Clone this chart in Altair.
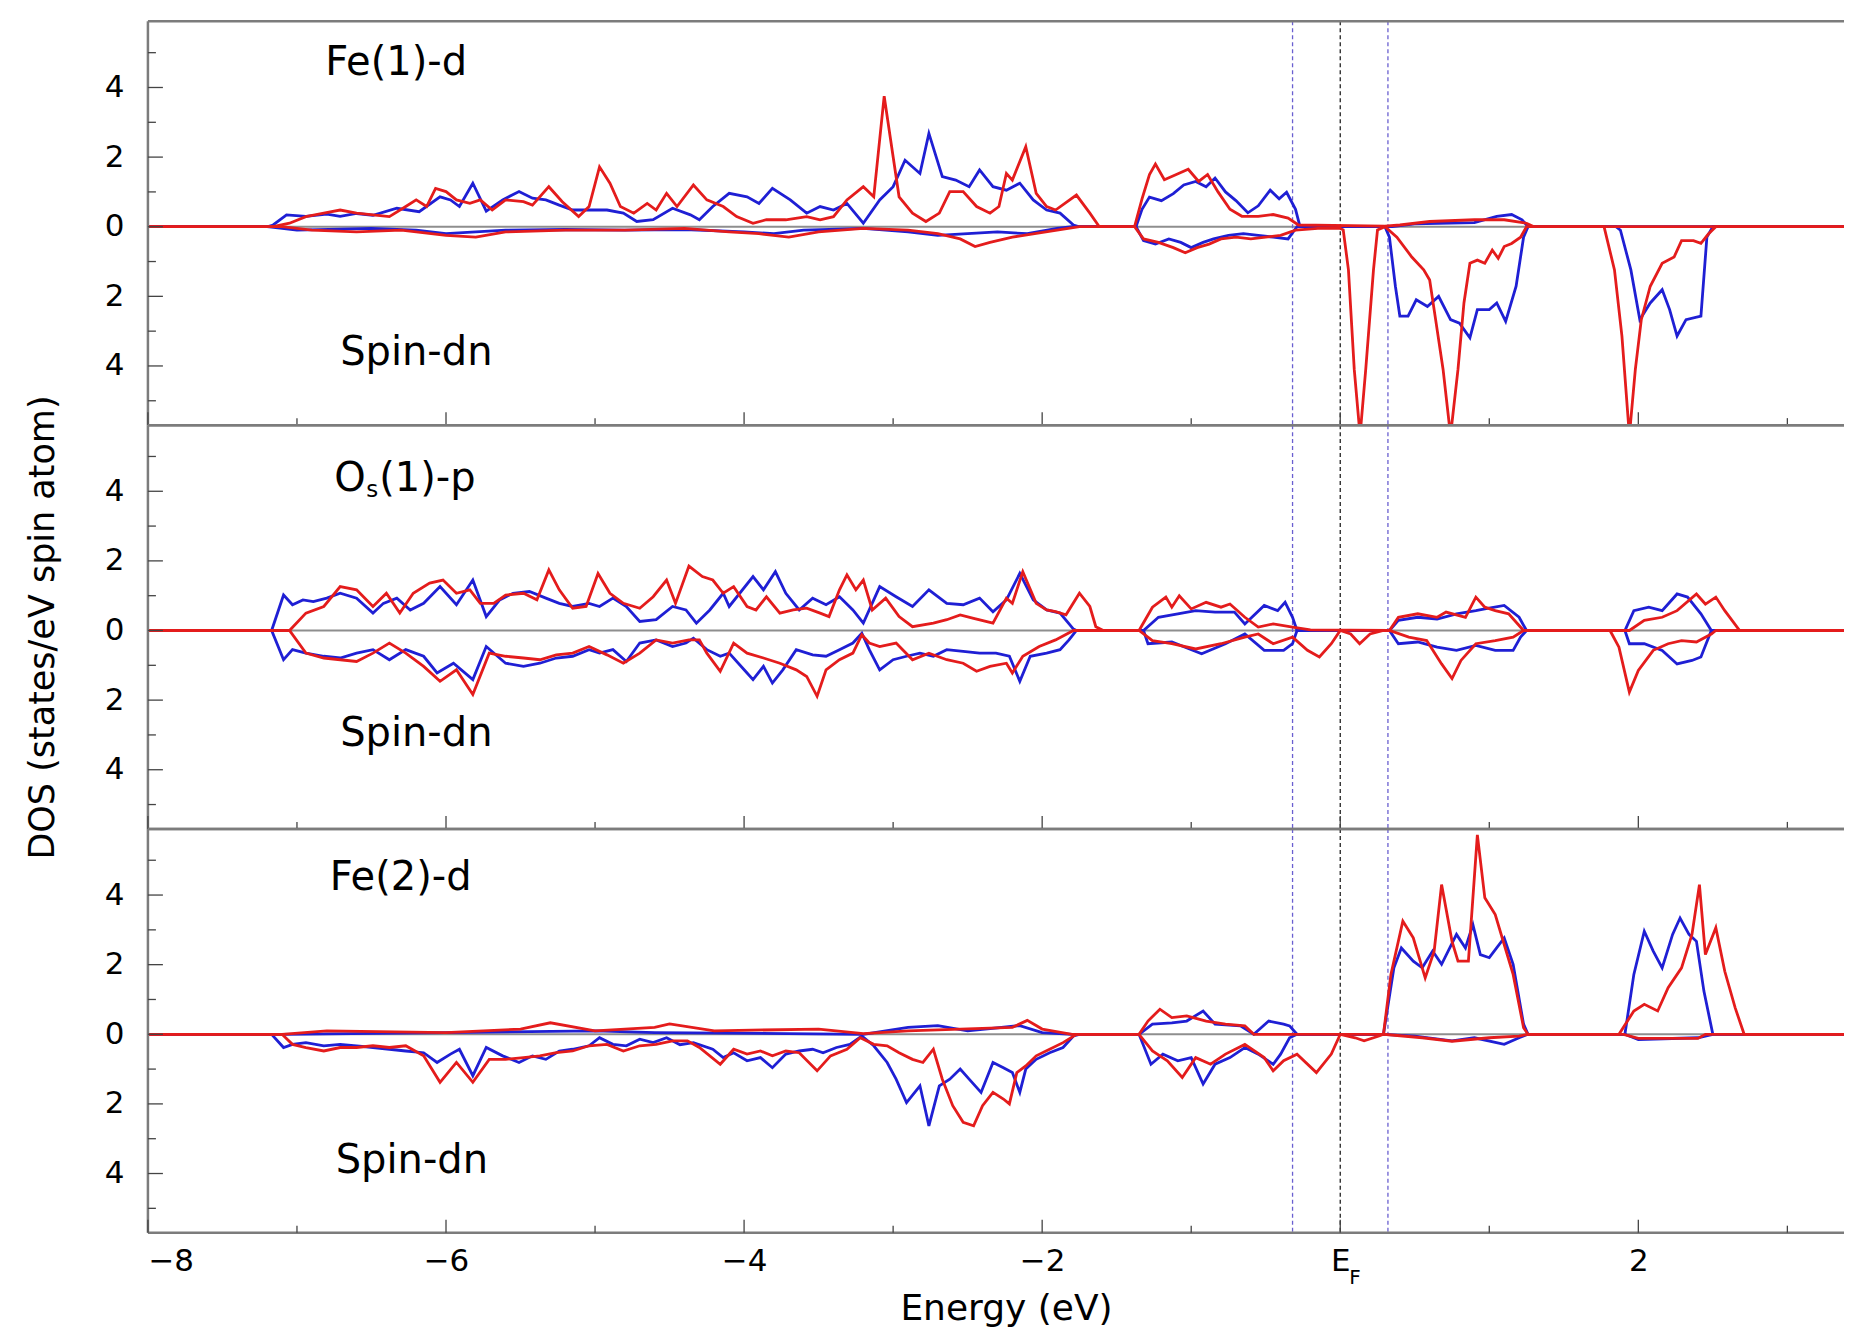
import altair as alt
import pandas as pd

# ---------------- data (energy in eV, DOS in states/eV spin atom; spin-dn negative) ---------
fe1_blue_up = [(-8.0,0),(-7.2,0),(-7.16,0.05),(-7.07,0.34),(-6.94,0.30),(-6.80,0.36),(-6.71,0.30),(-6.60,0.38),
  (-6.49,0.33),(-6.33,0.53),(-6.18,0.43),(-6.04,0.86),(-5.97,0.77),(-5.91,0.58),(-5.82,1.25),(-5.73,0.45),
  (-5.62,0.77),(-5.51,1.01),(-5.42,0.82),(-5.33,0.77),(-5.24,0.62),(-5.15,0.48),(-5.04,0.48),(-4.92,0.48),
  (-4.81,0.39),(-4.72,0.15),(-4.61,0.20),(-4.48,0.53),(-4.36,0.34),(-4.30,0.20),(-4.21,0.58),(-4.10,0.96),
  (-3.98,0.86),(-3.90,0.67),(-3.81,1.10),(-3.69,0.77),(-3.58,0.39),(-3.49,0.58),(-3.40,0.48),(-3.31,0.67),
  (-3.20,0.10),(-3.09,0.77),(-3.00,1.15),(-2.92,1.91),(-2.82,1.53),(-2.76,2.68),(-2.67,1.44),(-2.58,1.34),
  (-2.49,1.15),(-2.42,1.63),(-2.33,1.15),(-2.24,1.05),(-2.15,1.25),(-2.06,0.77),(-1.97,0.48),(-1.88,0.39),
  (-1.79,0.05),(-1.75,0),(-1.37,0),(-1.33,0.5),(-1.28,0.85),(-1.20,0.75),(-1.12,0.95),(-1.05,1.2),(-0.97,1.3),
  (-0.90,1.15),(-0.84,1.4),(-0.77,1.0),(-0.70,0.75),(-0.62,0.4),(-0.55,0.6),(-0.47,1.05),(-0.41,0.8),
  (-0.36,0.99),(-0.30,0.5),(-0.27,0),(0.35,0),(0.50,0.08),(0.90,0.12),(1.05,0.3),(1.15,0.35),(1.22,0.2),
  (1.26,0),(3.5,0)]
fe1_red_up = [(-8.0,0),(-7.16,0),(-7.05,0.10),(-6.94,0.29),(-6.82,0.39),(-6.71,0.48),(-6.60,0.39),(-6.49,0.34),
  (-6.38,0.29),(-6.27,0.58),(-6.20,0.77),(-6.13,0.58),(-6.07,1.10),(-6.00,1.01),(-5.93,0.77),(-5.84,0.67),
  (-5.77,0.77),(-5.69,0.48),(-5.60,0.77),(-5.48,0.72),(-5.42,0.62),(-5.31,1.15),(-5.22,0.72),(-5.11,0.29),
  (-5.04,0.58),(-4.97,1.72),(-4.90,1.25),(-4.83,0.58),(-4.74,0.39),(-4.65,0.67),(-4.59,0.48),(-4.52,0.96),
  (-4.45,0.58),(-4.34,1.20),(-4.25,0.77),(-4.14,0.58),(-4.05,0.29),(-3.94,0.10),(-3.85,0.20),(-3.72,0.20),
  (-3.58,0.29),(-3.49,0.20),(-3.40,0.29),(-3.31,0.77),(-3.20,1.15),(-3.13,0.86),(-3.06,3.75),(-3.00,2.01),
  (-2.96,0.86),(-2.87,0.39),(-2.78,0.15),(-2.69,0.39),(-2.62,1.01),(-2.53,1.01),(-2.44,0.58),(-2.35,0.39),
  (-2.29,0.58),(-2.24,1.53),(-2.20,1.34),(-2.11,2.30),(-2.04,0.96),(-1.97,0.58),(-1.91,0.48),(-1.77,0.91),
  (-1.68,0.39),(-1.62,0.02),(-1.58,0),(-1.38,0),(-1.33,0.8),(-1.28,1.5),(-1.24,1.8),(-1.18,1.35),(-1.10,1.5),
  (-1.02,1.65),(-0.95,1.3),(-0.89,1.5),(-0.82,1.0),(-0.74,0.5),(-0.66,0.3),(-0.55,0.3),(-0.45,0.35),
  (-0.35,0.25),(-0.28,0.05),(0.30,0.02),(0.40,0.05),(0.60,0.15),(0.90,0.2),(1.10,0.2),(1.25,0.1),(1.30,0),
  (3.5,0)]
fe1_blue_dn = [(-8.0,0),(-7.2,0),(-7.0,-0.1),(-6.5,-0.05),(-6.2,-0.1),(-6.0,-0.2),(-5.8,-0.15),(-5.6,-0.1),
  (-5.2,-0.08),(-4.8,-0.1),(-4.4,-0.08),(-4.0,-0.15),(-3.8,-0.2),(-3.6,-0.1),(-3.2,-0.05),(-2.9,-0.15),
  (-2.7,-0.25),(-2.5,-0.2),(-2.3,-0.15),(-2.1,-0.2),(-1.9,-0.05),(-1.8,0),(-1.37,0),(-1.32,-0.4),(-1.24,-0.5),
  (-1.15,-0.35),(-1.07,-0.45),(-1.0,-0.6),(-0.92,-0.45),(-0.85,-0.35),(-0.75,-0.25),(-0.65,-0.2),(-0.55,-0.25),
  (-0.45,-0.3),(-0.35,-0.35),(-0.29,0),(0.30,0),(0.33,-0.3),(0.37,-1.71),(0.40,-2.57),(0.455,-2.57),
  (0.51,-2.10),(0.585,-2.29),(0.66,-2.0),(0.74,-2.67),(0.80,-2.77),(0.87,-3.19),(0.92,-2.38),(1.0,-2.38),
  (1.05,-2.19),(1.11,-2.72),(1.18,-1.71),(1.23,-0.3),(1.26,0),(1.85,0),(1.88,-0.1),(1.95,-1.24),(2.01,-2.67),
  (2.08,-2.19),(2.16,-1.81),(2.21,-2.38),(2.26,-3.14),(2.32,-2.67),(2.42,-2.57),(2.46,-0.3),(2.50,0),(3.5,0)]
fe1_red_dn = [(-8.0,0),(-7.1,0),(-6.9,-0.1),(-6.6,-0.15),(-6.3,-0.1),(-6.0,-0.25),(-5.8,-0.3),(-5.6,-0.15),
  (-5.2,-0.1),(-4.8,-0.1),(-4.4,-0.05),(-4.1,-0.15),(-3.9,-0.2),(-3.7,-0.3),(-3.5,-0.15),(-3.2,-0.05),
  (-2.9,-0.1),(-2.7,-0.2),(-2.55,-0.35),(-2.45,-0.57),(-2.35,-0.45),(-2.2,-0.3),(-2.05,-0.2),(-1.9,-0.1),
  (-1.75,0),(-1.38,0),(-1.32,-0.35),(-1.22,-0.45),(-1.12,-0.6),(-1.04,-0.75),(-0.96,-0.6),(-0.88,-0.5),
  (-0.8,-0.35),(-0.7,-0.3),(-0.6,-0.35),(-0.5,-0.3),(-0.4,-0.25),(-0.3,-0.1),(-0.15,-0.05),(0.0,-0.05),
  (0.02,-0.09),(0.055,-1.24),(0.094,-4.1),(0.133,-6.0),(0.171,-4.1),(0.223,-1.24),(0.25,-0.09),(0.30,0),
  (0.38,-0.3),(0.48,-0.87),(0.56,-1.24),(0.60,-1.53),(0.64,-2.67),(0.69,-4.1),(0.74,-6.0),(0.79,-4.1),
  (0.83,-2.19),(0.87,-1.05),(0.92,-0.96),(0.97,-1.05),(1.02,-0.67),(1.06,-0.91),(1.10,-0.57),(1.15,-0.48),
  (1.21,-0.3),(1.25,0),(1.77,0),(1.84,-1.24),(1.89,-3.14),(1.94,-6.0),(1.98,-4.1),(2.02,-2.67),(2.08,-1.71),
  (2.16,-1.05),(2.24,-0.87),(2.29,-0.40),(2.37,-0.40),(2.42,-0.48),(2.47,-0.21),(2.52,0),(3.5,0)]

os_blue_up = [(-8.0,0),(-7.17,0),(-7.09,1.02),(-7.03,0.74),(-6.96,0.88),(-6.89,0.83),(-6.80,0.93),(-6.71,1.07),
  (-6.60,0.93),(-6.49,0.50),(-6.42,0.78),(-6.33,0.93),(-6.24,0.59),(-6.15,0.78),(-6.04,1.26),(-5.93,0.74),
  (-5.82,1.45),(-5.73,0.40),(-5.64,0.88),(-5.55,1.07),(-5.44,1.12),(-5.33,0.93),(-5.24,0.78),(-5.15,0.69),
  (-5.04,0.78),(-4.97,0.69),(-4.88,0.93),(-4.79,0.69),(-4.70,0.26),(-4.59,0.31),(-4.48,0.69),(-4.39,0.59),
  (-4.32,0.21),(-4.23,0.59),(-4.14,1.07),(-4.10,0.69),(-3.94,1.55),(-3.87,1.17),(-3.79,1.69),(-3.72,1.07),
  (-3.63,0.59),(-3.54,0.93),(-3.45,0.74),(-3.36,0.97),(-3.27,0.59),(-3.20,0.21),(-3.09,1.26),(-2.98,0.97),
  (-2.87,0.69),(-2.76,1.17),(-2.64,0.78),(-2.53,0.74),(-2.42,0.93),(-2.33,0.54),(-2.24,0.88),(-2.15,1.64),
  (-2.06,0.88),(-1.97,0.59),(-1.88,0.50),(-1.79,0.04),(-1.77,0),(-1.32,0),(-1.22,0.38),(-1.09,0.48),
  (-0.97,0.57),(-0.84,0.53),(-0.71,0.53),(-0.64,0.19),(-0.51,0.72),(-0.42,0.57),(-0.37,0.81),(-0.32,0.38),
  (-0.29,0),(0.33,0),(0.39,0.29),(0.52,0.38),(0.65,0.33),(0.78,0.48),(0.91,0.57),(0.97,0.62),(1.10,0.72),
  (1.20,0.38),(1.25,0),(1.91,0),(1.97,0.57),(2.07,0.67),(2.16,0.57),(2.26,1.05),(2.33,0.96),(2.42,0.48),
  (2.49,0),(3.5,0)]
os_red_up = [(-8.0,0),(-7.05,0),(-6.94,0.50),(-6.82,0.69),(-6.71,1.26),(-6.60,1.17),(-6.49,0.69),(-6.40,1.07),
  (-6.31,0.50),(-6.22,1.07),(-6.11,1.36),(-6.02,1.45),(-5.93,1.07),(-5.84,1.17),(-5.77,0.78),(-5.68,0.78),
  (-5.60,1.02),(-5.48,1.07),(-5.39,0.88),(-5.31,1.74),(-5.24,1.17),(-5.15,0.64),(-5.06,0.69),(-4.98,1.64),
  (-4.90,1.07),(-4.81,0.78),(-4.70,0.64),(-4.61,0.97),(-4.52,1.45),(-4.46,0.78),(-4.37,1.85),(-4.28,1.55),
  (-4.21,1.45),(-4.14,1.07),(-4.07,1.26),(-3.98,0.69),(-3.92,0.59),(-3.85,0.97),(-3.76,0.50),(-3.67,0.59),
  (-3.58,0.64),(-3.49,0.50),(-3.43,0.40),(-3.36,1.17),(-3.31,1.60),(-3.25,1.17),(-3.20,1.45),(-3.14,0.59),
  (-3.05,0.93),(-2.96,0.40),(-2.87,0.11),(-2.73,0.21),(-2.64,0.31),(-2.55,0.45),(-2.46,0.35),(-2.33,0.21),
  (-2.24,0.93),(-2.20,0.78),(-2.13,1.69),(-2.04,0.78),(-1.97,0.59),(-1.91,0.54),(-1.84,0.45),(-1.75,1.07),
  (-1.68,0.69),(-1.64,0.11),(-1.59,0),(-1.35,0),(-1.26,0.67),(-1.17,0.96),(-1.13,0.67),(-1.08,1.0),
  (-1.00,0.62),(-0.90,0.81),(-0.80,0.67),(-0.74,0.76),(-0.64,0.38),(-0.55,0.10),(-0.45,0.19),(-0.32,0.10),
  (-0.20,0.02),(0.33,0),(0.39,0.38),(0.52,0.48),(0.65,0.38),(0.71,0.53),(0.84,0.38),(0.91,0.96),(0.97,0.67),
  (1.04,0.57),(1.13,0.48),(1.23,0),(1.94,0),(2.04,0.29),(2.16,0.38),(2.26,0.57),(2.39,1.05),(2.45,0.76),
  (2.52,0.96),(2.58,0.57),(2.68,0),(3.5,0)]
os_blue_dn = [(-8.0,0),(-7.17,0),(-7.09,-0.84),(-7.03,-0.55),(-6.94,-0.65),(-6.82,-0.74),(-6.71,-0.79),
  (-6.60,-0.65),(-6.49,-0.55),(-6.38,-0.84),(-6.27,-0.55),(-6.15,-0.74),(-6.06,-1.22),(-5.95,-0.94),
  (-5.82,-1.41),(-5.73,-0.46),(-5.60,-0.94),(-5.48,-1.03),(-5.37,-0.94),(-5.26,-0.79),(-5.15,-0.74),
  (-5.04,-0.55),(-4.97,-0.65),(-4.88,-0.55),(-4.79,-0.89),(-4.70,-0.36),(-4.59,-0.27),(-4.48,-0.46),
  (-4.39,-0.36),(-4.34,-0.22),(-4.25,-0.55),(-4.16,-0.74),(-4.10,-0.65),(-3.98,-1.22),(-3.94,-1.41),
  (-3.87,-1.03),(-3.81,-1.51),(-3.74,-1.13),(-3.65,-0.55),(-3.54,-0.70),(-3.45,-0.74),(-3.36,-0.55),
  (-3.27,-0.36),(-3.21,-0.08),(-3.16,-0.55),(-3.09,-1.13),(-3.00,-0.84),(-2.91,-0.74),(-2.82,-0.65),
  (-2.73,-0.74),(-2.64,-0.55),(-2.53,-0.60),(-2.42,-0.65),(-2.31,-0.65),(-2.22,-0.74),(-2.15,-1.46),
  (-2.08,-0.74),(-1.97,-0.65),(-1.88,-0.55),(-1.82,-0.27),(-1.77,0),(-1.32,0),(-1.29,-0.38),(-1.13,-0.33),
  (-0.93,-0.67),(-0.77,-0.38),(-0.64,-0.10),(-0.51,-0.57),(-0.38,-0.57),(-0.32,-0.38),(-0.29,0),(0.33,0),
  (0.39,-0.38),(0.52,-0.33),(0.65,-0.48),(0.78,-0.57),(0.91,-0.43),(1.04,-0.57),(1.16,-0.57),(1.21,-0.19),
  (1.25,0),(1.91,0),(1.94,-0.38),(2.04,-0.38),(2.16,-0.57),(2.26,-0.96),(2.36,-0.86),(2.42,-0.76),(2.49,0),
  (3.5,0)]
os_red_dn = [(-8.0,0),(-7.05,0),(-6.94,-0.65),(-6.82,-0.79),(-6.71,-0.84),(-6.60,-0.89),(-6.49,-0.65),
  (-6.38,-0.36),(-6.27,-0.65),(-6.15,-1.03),(-6.04,-1.46),(-5.93,-1.13),(-5.82,-1.84),(-5.71,-0.65),
  (-5.60,-0.74),(-5.48,-0.79),(-5.37,-0.84),(-5.26,-0.70),(-5.15,-0.65),(-5.04,-0.46),(-4.92,-0.70),
  (-4.81,-0.94),(-4.70,-0.65),(-4.59,-0.27),(-4.48,-0.36),(-4.37,-0.27),(-4.30,-0.27),(-4.25,-0.65),
  (-4.16,-1.17),(-4.07,-0.36),(-3.98,-0.65),(-3.87,-0.79),(-3.76,-0.94),(-3.65,-1.13),(-3.58,-1.32),
  (-3.51,-1.89),(-3.45,-1.13),(-3.36,-0.84),(-3.27,-0.65),(-3.21,-0.12),(-3.16,-0.36),(-3.09,-0.46),
  (-2.98,-0.36),(-2.87,-0.84),(-2.76,-0.65),(-2.64,-0.84),(-2.53,-0.94),(-2.44,-1.17),(-2.35,-1.03),
  (-2.24,-0.94),(-2.20,-1.22),(-2.13,-0.74),(-2.02,-0.46),(-1.91,-0.27),(-1.79,0),(-1.35,0),(-1.26,-0.29),
  (-1.13,-0.38),(-0.97,-0.53),(-0.80,-0.38),(-0.64,-0.19),(-0.55,-0.10),(-0.45,-0.38),(-0.32,-0.19),
  (-0.22,-0.57),(-0.14,-0.76),(-0.06,-0.38),(0.0,0),(0.07,-0.10),(0.13,-0.38),(0.20,-0.10),(0.29,0),(0.33,0),
  (0.46,-0.19),(0.58,-0.29),(0.68,-0.96),(0.75,-1.38),(0.81,-0.86),(0.91,-0.38),(1.04,-0.29),(1.16,-0.19),
  (1.23,0),(1.81,0),(1.87,-0.48),(1.94,-1.77),(2.00,-1.15),(2.10,-0.57),(2.20,-0.38),(2.29,-0.29),
  (2.39,-0.33),(2.49,-0.10),(2.52,0),(3.5,0)]

fe2_blue_up = [(-8.0,0),(-7.1,0),(-6.0,0.05),(-5.0,0.1),(-4.6,0.05),(-3.2,0),(-2.9,0.2),(-2.7,0.25),(-2.5,0.1),
  (-2.15,0.25),(-2.0,0.05),(-1.8,0),(-1.35,0),(-1.26,0.29),(-1.13,0.33),(-1.03,0.38),(-0.92,0.67),(-0.84,0.29),
  (-0.67,0.24),(-0.58,0),(-0.48,0.38),(-0.38,0.29),(-0.34,0.24),(-0.29,0),(0.29,0),(0.36,1.91),(0.41,2.48),
  (0.49,2.10),(0.55,1.91),(0.62,2.39),(0.68,2.01),(0.78,2.87),(0.84,2.48),(0.89,3.15),(0.94,2.29),(1.00,2.20),
  (1.10,2.77),(1.16,2.01),(1.23,0.29),(1.26,0),(1.91,0),(1.97,1.72),(2.04,2.96),(2.10,2.39),(2.16,1.91),
  (2.23,2.87),(2.28,3.34),(2.34,2.87),(2.39,2.67),(2.44,1.24),(2.50,0),(3.5,0)]
fe2_red_up = [(-8.0,0),(-7.1,0),(-6.8,0.1),(-6.0,0.05),(-5.5,0.15),(-5.3,0.33),(-5.0,0.1),(-4.6,0.2),(-4.5,0.3),
  (-4.2,0.1),(-3.5,0.15),(-3.2,0.02),(-2.9,0.1),(-2.2,0.2),(-2.1,0.4),(-2.0,0.15),(-1.8,0),(-1.35,0),
  (-1.29,0.38),(-1.21,0.72),(-1.13,0.48),(-1.03,0.53),(-0.90,0.38),(-0.77,0.29),(-0.64,0.24),(-0.58,0),
  (0.29,0),(0.34,1.72),(0.42,3.25),(0.49,2.77),(0.57,1.62),(0.63,2.39),(0.68,4.30),(0.75,2.67),(0.79,2.10),
  (0.86,2.10),(0.92,5.73),(0.97,3.92),(1.04,3.44),(1.10,2.58),(1.16,1.72),(1.23,0.19),(1.26,0),(1.87,0),
  (1.97,0.67),(2.04,0.86),(2.13,0.67),(2.20,1.34),(2.29,1.91),(2.36,2.87),(2.41,4.30),(2.45,2.29),
  (2.52,3.06),(2.58,1.81),(2.65,0.76),(2.71,0),(3.5,0)]
fe2_blue_dn = [(-8.0,0),(-7.17,0),(-7.09,-0.38),(-7.03,-0.29),(-6.94,-0.24),(-6.82,-0.33),(-6.71,-0.29),
  (-6.60,-0.33),(-6.49,-0.38),(-6.38,-0.43),(-6.27,-0.48),(-6.15,-0.53),(-6.06,-0.81),(-5.97,-0.57),
  (-5.91,-0.43),(-5.82,-1.19),(-5.73,-0.38),(-5.62,-0.62),(-5.51,-0.81),(-5.42,-0.62),(-5.33,-0.72),
  (-5.24,-0.48),(-5.15,-0.43),(-5.04,-0.33),(-4.97,-0.10),(-4.88,-0.29),(-4.79,-0.33),(-4.70,-0.14),
  (-4.61,-0.24),(-4.52,-0.10),(-4.43,-0.30),(-4.34,-0.24),(-4.21,-0.43),(-4.14,-0.67),(-4.07,-0.53),
  (-3.98,-0.76),(-3.89,-0.67),(-3.81,-0.96),(-3.72,-0.57),(-3.63,-0.48),(-3.54,-0.43),(-3.47,-0.53),
  (-3.38,-0.38),(-3.29,-0.29),(-3.21,-0.05),(-3.13,-0.33),(-3.04,-0.81),(-2.98,-1.29),(-2.91,-1.96),
  (-2.82,-1.48),(-2.76,-2.63),(-2.69,-1.48),(-2.62,-1.29),(-2.55,-1.0),(-2.49,-1.29),(-2.41,-1.67),
  (-2.33,-0.81),(-2.26,-0.96),(-2.20,-1.10),(-2.15,-1.67),(-2.11,-1.0),(-2.04,-0.72),(-1.95,-0.53),
  (-1.86,-0.38),(-1.79,-0.05),(-1.75,0),(-1.35,0),(-1.27,-0.86),(-1.19,-0.57),(-1.09,-0.76),(-1.00,-0.67),
  (-0.92,-1.43),(-0.84,-0.86),(-0.74,-0.67),(-0.64,-0.38),(-0.55,-0.57),(-0.45,-0.86),(-0.40,-0.57),
  (-0.34,-0.10),(-0.29,0),(0.29,0),(0.50,-0.05),(0.75,-0.19),(0.90,-0.10),(1.10,-0.29),(1.20,-0.10),(1.26,0),
  (1.91,0),(2.0,-0.15),(2.4,-0.10),(2.5,0),(3.5,0)]
fe2_red_dn = [(-8.0,0),(-7.10,0),(-7.03,-0.29),(-6.94,-0.38),(-6.82,-0.48),(-6.71,-0.38),(-6.60,-0.38),
  (-6.49,-0.33),(-6.38,-0.38),(-6.27,-0.33),(-6.15,-0.62),(-6.04,-1.38),(-5.93,-0.81),(-5.82,-1.38),
  (-5.71,-0.72),(-5.60,-0.72),(-5.48,-0.67),(-5.37,-0.62),(-5.26,-0.53),(-5.15,-0.48),(-5.04,-0.33),
  (-4.92,-0.29),(-4.81,-0.48),(-4.70,-0.33),(-4.59,-0.29),(-4.48,-0.19),(-4.38,-0.19),(-4.30,-0.38),
  (-4.16,-0.86),(-4.07,-0.43),(-3.98,-0.57),(-3.89,-0.48),(-3.81,-0.62),(-3.72,-0.48),(-3.63,-0.53),
  (-3.51,-1.05),(-3.42,-0.62),(-3.31,-0.43),(-3.22,-0.10),(-3.13,-0.29),(-3.04,-0.33),(-2.96,-0.53),
  (-2.87,-0.72),(-2.80,-0.81),(-2.73,-0.43),(-2.67,-1.29),(-2.60,-2.05),(-2.53,-2.53),(-2.46,-2.63),
  (-2.40,-2.05),(-2.33,-1.67),(-2.26,-1.86),(-2.22,-2.0),(-2.17,-1.10),(-2.11,-0.91),(-2.04,-0.62),
  (-1.95,-0.43),(-1.86,-0.24),(-1.77,0),(-1.35,0),(-1.26,-0.48),(-1.16,-0.76),(-1.06,-1.24),(-0.97,-0.67),
  (-0.87,-0.86),(-0.77,-0.57),(-0.64,-0.29),(-0.51,-0.67),(-0.45,-1.05),(-0.38,-0.76),(-0.29,-0.57),
  (-0.16,-1.10),(-0.06,-0.57),(0.0,0),(0.10,-0.10),(0.16,-0.19),(0.26,-0.05),(0.29,0),(0.55,-0.10),
  (0.75,-0.20),(1.00,-0.10),(1.20,-0.05),(1.26,0),(1.90,0),(2.0,-0.12),(2.4,-0.12),(2.45,0),(3.5,0)]

panel_keys = ["Fe(1)-d", "Os(1)-p", "Fe(2)-d"]
x_label_values = [-8, -6, -4, -2, 0, 2]
x_minor_ticks = [-7, -5, -3, -1, 1, 3]
y_label_values = [-4, -2, 0, 2, 4]
y_minor_ticks = [-5, -3, -1, 1, 3, 5]
window_lines = [-0.32, 0.32]
fermi_line = [0.0]
label_E = [-6.81, -6.75, -6.78]
label_D = [4.71, 4.36, 4.50]
spin_E = [-6.71, -6.71, -6.74]
spin_D = [-3.62, -2.98, -3.63]

# ---------------- styling ----------------
XMIN, XMAX = -8.0, 3.38
YMIN, YMAX = -5.7, 5.9
W, H = 1697, 404
BLUE = "#1f1fd4"
RED = "#e41c1c"
FRAME = "#7c7c7c"
FONT = "DejaVu Sans"
TICKFS = 31
LABFS = 40

curve_sets = [
    [("blue", "up", fe1_blue_up), ("blue", "dn", fe1_blue_dn), ("red", "up", fe1_red_up), ("red", "dn", fe1_red_dn)],
    [("blue", "up", os_blue_up), ("blue", "dn", os_blue_dn), ("red", "up", os_red_up), ("red", "dn", os_red_dn)],
    [("blue", "up", fe2_blue_up), ("blue", "dn", fe2_blue_dn), ("red", "up", fe2_red_up), ("red", "dn", fe2_red_dn)],
]


def to_df(items):
    rows = []
    for col, spin, pts in items:
        for e, d in pts:
            rows.append({"E": e, "DOS": d, "col": col, "spin": spin})
    return pd.DataFrame(rows)


xs = alt.Scale(domain=[XMIN, XMAX], nice=False, zero=False)
ys = alt.Scale(domain=[YMIN, YMAX], nice=False, zero=False)


def make_panel(i):
    bottom = i == 2
    if bottom:
        xaxis = alt.Axis(values=x_label_values, labelExpr="datum.value == 0 ? 'E' : datum.label",
                         ticks=False, domain=False, grid=False, labelFont=FONT, labelFontSize=TICKFS,
                         labelColor="black", labelPadding=14, title="Energy (eV)", titleFont=FONT,
                         titleFontSize=36, titleFontWeight="normal", titleColor="black", titlePadding=15,
                         titleX=W / 2 + 10)
    else:
        xaxis = None
    if i == 1:
        yaxis = alt.Axis(values=y_label_values, labelExpr="abs(datum.value)", ticks=False, domain=False,
                         grid=False, labelFont=FONT, labelFontSize=TICKFS, labelColor="black", labelPadding=24,
                         title="DOS (states/eV spin atom)", titleFont=FONT, titleFontSize=35,
                         titleFontWeight="normal", titleColor="black", titlePadding=44)
    else:
        yaxis = alt.Axis(values=y_label_values, labelExpr="abs(datum.value)", ticks=False, domain=False,
                         grid=False, labelFont=FONT, labelFontSize=TICKFS, labelColor="black", labelPadding=24,
                         title=None)
    X = alt.X("E:Q", scale=xs, axis=xaxis)
    Y = alt.Y("DOS:Q", scale=ys, axis=yaxis)

    df = to_df(curve_sets[i])
    base_line = alt.Chart(pd.DataFrame({"DOS": [0.0]})).mark_rule(color="#8e8e8e", strokeWidth=2).encode(y=Y)
    vl_win = alt.Chart(pd.DataFrame({"E": window_lines})).mark_rule(
        strokeDash=[4, 3], strokeWidth=1.3, color="#6a5fd0").encode(x=X)
    vl_ef = alt.Chart(pd.DataFrame({"E": fermi_line})).mark_rule(
        strokeDash=[4, 3], strokeWidth=1.3, color="#222222").encode(x=X)
    blue = alt.Chart(df[df.col == "blue"]).mark_line(color=BLUE, strokeWidth=2.8, clip=True).encode(
        x=X, y=Y, detail="spin:N")
    red = alt.Chart(df[df.col == "red"]).mark_line(color=RED, strokeWidth=2.8, clip=True).encode(
        x=X, y=Y, detail="spin:N")
    top = alt.Chart(pd.DataFrame({"a": [0]})).mark_rule(color=FRAME, strokeWidth=2.5).encode(
        x=alt.value(0), x2=alt.value(W), y=alt.value(0))
    bot = alt.Chart(pd.DataFrame({"a": [0]})).mark_rule(color=FRAME, strokeWidth=2.5).encode(
        x=alt.value(0), x2=alt.value(W), y=alt.value(H))
    left = alt.Chart(pd.DataFrame({"a": [0]})).mark_rule(color=FRAME, strokeWidth=2.5).encode(
        x=alt.value(0), y=alt.value(0), y2=alt.value(H))
    xt_major = alt.Chart(pd.DataFrame({"E": x_label_values})).mark_rule(color="#444", strokeWidth=1.3).encode(
        x=X, y=alt.value(H), y2=alt.value(H - 13))
    xt_minor = alt.Chart(pd.DataFrame({"E": x_minor_ticks})).mark_rule(color="#444", strokeWidth=1.3).encode(
        x=X, y=alt.value(H), y2=alt.value(H - 7))
    yt_major = alt.Chart(pd.DataFrame({"DOS": y_label_values})).mark_rule(color="#444", strokeWidth=1.3).encode(
        y=Y, x=alt.value(0), x2=alt.value(15))
    yt_minor = alt.Chart(pd.DataFrame({"DOS": y_minor_ticks})).mark_rule(color="#444", strokeWidth=1.3).encode(
        y=Y, x=alt.value(0), x2=alt.value(8))
    spin = alt.Chart(pd.DataFrame({"E": [spin_E[i]], "DOS": [spin_D[i]], "t": ["Spin-dn"]})).mark_text(
        align="left", baseline="middle", font=FONT, fontSize=LABFS, color="black").encode(x=X, y=Y, text="t:N")
    layers = [base_line, vl_win, vl_ef, blue, red, top, bot, left, xt_major, xt_minor, yt_major, yt_minor, spin]
    if i == 1:
        lab_df = pd.DataFrame({"E": [label_E[i]], "DOS": [label_D[i]]})
        o = alt.Chart(lab_df).mark_text(align="left", baseline="middle", font=FONT, fontSize=LABFS,
                                        color="black", text="O").encode(x=X, y=Y)
        s = alt.Chart(lab_df).mark_text(align="left", baseline="middle", font=FONT, fontSize=23,
                                        color="black", text="s", dx=32, dy=11).encode(x=X, y=Y)
        rest = alt.Chart(lab_df).mark_text(align="left", baseline="middle", font=FONT, fontSize=LABFS,
                                           color="black", text="(1)-p", dx=45).encode(x=X, y=Y)
        layers += [o, s, rest]
    else:
        lab = alt.Chart(pd.DataFrame({"E": [label_E[i]], "DOS": [label_D[i]], "t": [panel_keys[i]]})).mark_text(
            align="left", baseline="middle", font=FONT, fontSize=LABFS, color="black").encode(x=X, y=Y, text="t:N")
        layers.append(lab)
    if bottom:
        sub = alt.Chart(pd.DataFrame({"E": [0.0]})).mark_text(
            align="left", baseline="middle", font=FONT, fontSize=20, color="black", text="F",
            dx=9, dy=0).encode(x=X, y=alt.value(H + 45))
        layers.append(sub)
    return alt.layer(*layers).properties(width=W, height=H)


chart = alt.vconcat(make_panel(0), make_panel(1), make_panel(2), spacing=0, bounds="flush").properties(
    padding={"left": 17, "top": 11, "right": 0, "bottom": 0}, background="white"
).configure_view(stroke=None)

chart.save("out.html", embed_options={"renderer": "svg", "actions": False})
